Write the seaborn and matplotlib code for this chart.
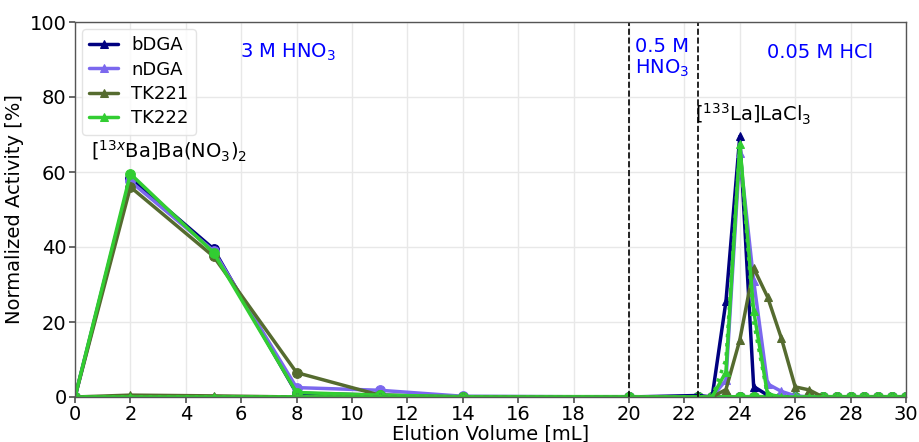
import numpy as np
import pandas as pd
import matplotlib
matplotlib.use("Agg")
import matplotlib.pyplot as plt
import seaborn as sns

# Elution volumes [mL]
volume = [0, 2, 5, 8, 11, 14, 20, 22.5, 23, 23.5, 24, 24.5, 25, 25.5, 26, 26.5,
          27, 27.5, 28, 28.5, 29, 29.5, 30]

sorbents = ["bDGA", "nDGA", "TK221", "TK222"]
colors = ["#000080", "#7B68EE", "#556B2F", "#32CD32"]

# Ba fractions [%]
ba_bDGA = [0, 58.5, 39.5, 1.0, 0.5, 0, 0, 0, 0, 0, 0, 0, 0, 0, 0, 0, 0, 0, 0, 0, 0, 0, 0]
ba_nDGA = [0, 57.5, 39.0, 2.5, 1.8, 0.2, 0, 0, 0, 0, 0, 0, 0, 0, 0, 0, 0, 0, 0, 0, 0, 0, 0]
ba_TK221 = [0, 56.0, 37.5, 6.5, 0.5, 0, 0, 0, 0, 0, 0, 0, 0, 0, 0, 0, 0, 0, 0, 0, 0, 0, 0]
ba_TK222 = [0, 59.5, 38.5, 1.2, 0.5, 0.1, 0.1, 0, 0, 0, 0.1, 0.1, 0.1, 0.1, 0.1, 0.1, 0.1, 0.1, 0.1, 0.1, 0.1, 0.1, 0.1]

# La fractions [%]
la_bDGA = [0, 0, 0, 0, 0, 0, 0, 0.4, 0, 25.5, 69.5, 2.8, 0.5, 0, 0, 0, 0, 0, 0, 0, 0, 0, 0]
la_nDGA = [0, 0, 0, 0, 0, 0, 0, 0, 0, 4.5, 65.0, 31.0, 3.5, 1.5, 0.3, 0, 0, 0, 0, 0, 0, 0, 0]
la_TK221 = [0, 0.5, 0.3, 0, 0, 0, 0, 0, 0, 2.0, 15.2, 34.4, 26.7, 15.7, 2.7, 1.9, 0, 0, 0, 0, 0, 0, 0]
la_TK222 = [0, 0, 0, 0, 0, 0, 0, 0, 0, 6.7, 67.5, 23.0, 0.8, 0, 0, 0, 0, 0, 0, 0, 0, 0, 0]
la_TK222_dotted = [0, 0, 0, 0, 0, 0, 0, 0, 0, 10.0, 67.0, 20.0, 0.5, 0, 0, 0, 0, 0, 0, 0, 0, 0, 0]

ba_vals = [ba_bDGA, ba_nDGA, ba_TK221, ba_TK222]
la_vals = [la_bDGA, la_nDGA, la_TK221, la_TK222]

sns.set_theme(style="whitegrid")
plt.rcParams['font.family'] = ['DejaVu Sans']

fig = plt.figure(figsize=(9.19, 4.42), dpi=100)
ax = fig.add_axes([75/919, 1 - 397/442, (906-75)/919, (397-22)/442])

for name, c, ys in zip(sorbents, colors, ba_vals):
    sns.lineplot(x=volume, y=ys, ax=ax, color=c, marker="o", markersize=7,
                 linewidth=2.5, markeredgecolor=c, legend=False)

for name, c, ys in zip(sorbents, colors, la_vals):
    sns.lineplot(x=volume, y=ys, ax=ax, color=c, marker="^", markersize=6,
                 linewidth=2.5, markeredgecolor=c, label=name)

sns.lineplot(x=volume, y=la_TK222_dotted, ax=ax, color=colors[3], linestyle=":",
             linewidth=2.5, legend=False)

ax.axvline(20, color="black", linestyle="--", linewidth=1.2)
ax.axvline(22.5, color="black", linestyle="--", linewidth=1.2)

ax.set_xlim(0, 30)
ax.set_ylim(0, 100)
ax.set_xticks(np.arange(0, 31, 2))
ax.set_yticks(np.arange(0, 101, 20))
ax.tick_params(axis="both", labelsize=14, length=4, color="#555555",
               labelcolor="black", bottom=True, left=True, pad=2)
ax.grid(True, color="#e8e8e8", linewidth=1)
for s in ax.spines.values():
    s.set_color("#555555")
    s.set_linewidth(1)

ax.set_xlabel("Elution Volume [mL]", fontsize=14, color="black", labelpad=0)
ax.set_ylabel("Normalized Activity [%]", fontsize=14, color="black")

ax.text(7.7, 92, "3 M HNO$_3$", color="blue", fontsize=14, ha="center", va="center")
ax.text(20.2, 96, "0.5 M\nHNO$_3$", color="blue", fontsize=14, ha="left", va="top",
        linespacing=1.1)
ax.text(26.9, 92, "0.05 M HCl", color="blue", fontsize=14, ha="center", va="center")
ax.text(3.4, 62, "[$^{13x}$Ba]Ba(NO$_3$)$_2$", color="black", fontsize=14,
        ha="center", va="bottom")
ax.text(24.5, 72, "[$^{133}$La]LaCl$_3$", color="black", fontsize=14,
        ha="center", va="bottom")

leg = ax.legend(loc="upper left", fontsize=13, frameon=True, handlelength=1.6,
                borderaxespad=0.4, labelspacing=0.35, handletextpad=0.7)
leg.get_frame().set_edgecolor("#dddddd")
for t in leg.get_texts():
    t.set_color("black")

fig.savefig("out.png", dpi=100)
